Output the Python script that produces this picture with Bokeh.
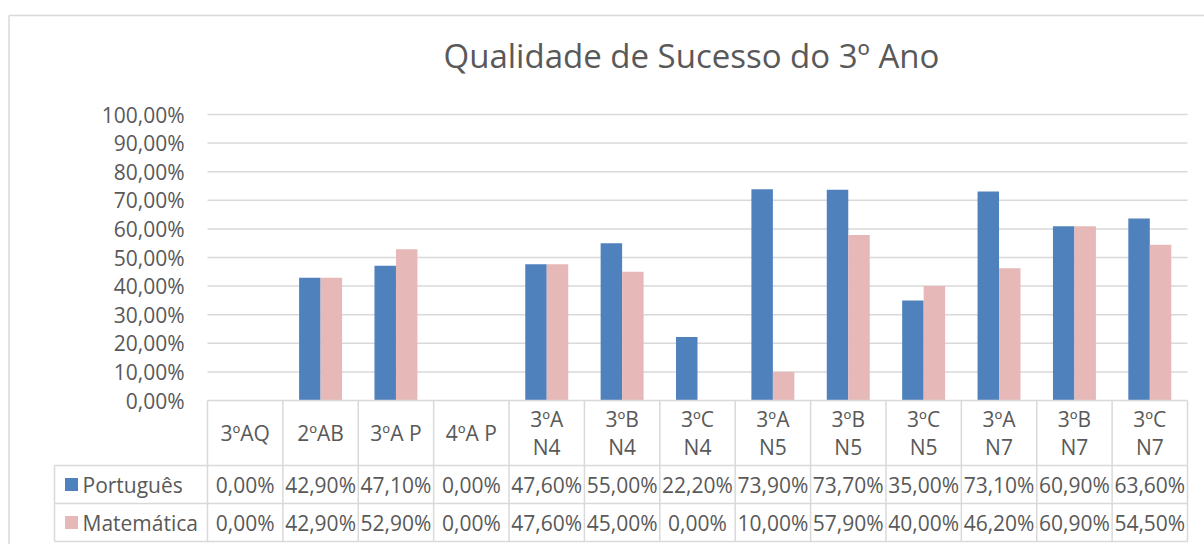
from bokeh.plotting import figure
from bokeh.models import Range1d
from bokeh.core.properties import value
from bokeh.embed import file_html
from bokeh.resources import INLINE

# ---------------- data ----------------
title_text = "Qualidade de Sucesso do 3º Ano"
categories = ["3ºAQ", "2ºAB", "3ºA P", "4ºA P", "3ºA\nN4", "3ºB\nN4", "3ºC\nN4",
              "3ºA\nN5", "3ºB\nN5", "3ºC\nN5", "3ºA\nN7", "3ºB\nN7", "3ºC\nN7"]
series_names = ["Português", "Matemática"]
portugues = [0.0, 42.9, 47.1, 0.0, 47.6, 55.0, 22.2, 73.9, 73.7, 35.0, 73.1, 60.9, 63.6]
matematica = [0.0, 42.9, 52.9, 0.0, 47.6, 45.0, 0.0, 10.0, 57.9, 40.0, 46.2, 60.9, 54.5]
y_ticks = [0, 10, 20, 30, 40, 50, 60, 70, 80, 90, 100]
y_tick_labels = ["0,00%", "10,00%", "20,00%", "30,00%", "40,00%", "50,00%",
                 "60,00%", "70,00%", "80,00%", "90,00%", "100,00%"]

# ---------------- layout (pixels of the reference picture) ----------------
W, H = 1204, 544
OFF = 0
X0 = 207.0                   # left edge of first category column
CW = (1187.0 - 207.0) / 13   # category column width
Y0 = 400.0                   # y of 0 %
YU = 286.0                   # pixels per 100 %


def dx(px):
    return (px - X0) / CW


def dy(py):
    return (Y0 - py) / YU * 100.0


FONT = value("Open Sans")
TXT = "#595959"
GRID = "#D9D9D9"
BLUE = "#4F81BD"
PINK = "#E6B9B8"
n = len(categories)

p = figure(width=W, height=H, output_backend="svg", toolbar_location=None,
           x_axis_location=None, y_axis_location=None,
           x_range=Range1d(dx(OFF), dx(OFF + W)),
           y_range=Range1d(dy(OFF + H), dy(OFF)),
           min_border=0, min_border_left=0, min_border_right=0,
           min_border_top=0, min_border_bottom=0)
p.outline_line_color = None
p.xgrid.visible = False
p.ygrid.visible = False
p.background_fill_color = "white"
p.border_fill_color = "white"

# outer chart border
p.segment(x0=[dx(8.5), dx(8.5)], y0=[dy(15), dy(15)],
          x1=[dx(1300), dx(8.5)], y1=[dy(15), dy(700)],
          line_color="#D9D9D9", line_width=1.5)

# title
p.text(x=[dx(691)], y=[dy(55)], text=[title_text], text_font=FONT,
       text_font_size=value("33px"), text_color=TXT, text_align="center",
       text_baseline="alphabetic")

# horizontal gridlines from ticks
gt = [t for t in y_ticks if t > 0]
p.segment(x0=[0] * len(gt), x1=[n] * len(gt), y0=gt, y1=gt,
          line_color=GRID, line_width=1.5)

# y tick labels
p.text(x=[dx(184)] * len(y_ticks), y=y_ticks, text=y_tick_labels, text_font=FONT,
       text_font_size=value("21px"), text_color=TXT, text_align="right",
       text_baseline="middle")

# bars
xs = [i + 0.5 for i in range(n)]
bw = 0.285
p.vbar(x=[x - bw / 2 for x in xs], top=portugues, bottom=0, width=bw,
       fill_color=BLUE, line_color=None)
p.vbar(x=[x + bw / 2 for x in xs], top=matematica, bottom=0, width=bw,
       fill_color=PINK, line_color=None)

# ---------------- data table ----------------
row_top = [465.0, 503.0, 541.0]
p.segment(x0=[0], x1=[n], y0=[0], y1=[0], line_color=GRID, line_width=1.5)
p.segment(x0=[dx(54)] * 3, x1=[n] * 3, y0=[dy(r) for r in row_top],
          y1=[dy(r) for r in row_top], line_color=GRID, line_width=1.5)
p.segment(x0=list(range(n + 1)), x1=list(range(n + 1)), y0=[0] * (n + 1),
          y1=[dy(541)] * (n + 1), line_color=GRID, line_width=1.5)
p.segment(x0=[dx(54)], x1=[dx(54)], y0=[dy(465)], y1=[dy(541)],
          line_color=GRID, line_width=1.5)

# header labels
p.text(x=xs, y=[dy(432.5)] * n, text=categories, text_font=FONT,
       text_font_size=value("21px"), text_color=TXT, text_align="center",
       text_baseline="middle", text_line_height=0.98)


def fmt(v):
    return f"{v:.2f}".replace(".", ",") + "%"


row_c = [dy(484), dy(522)]
for vals, yc, col, name in zip([portugues, matematica], row_c, [BLUE, PINK], series_names):
    p.text(x=xs, y=[yc] * n, text=[fmt(v) for v in vals], text_font=FONT,
           text_font_size=value("21px"), text_color=TXT, text_align="center",
           text_baseline="middle")
    p.scatter(x=[dx(71)], y=[yc], marker="square", size=13, fill_color=col,
              line_color=None)
    p.text(x=[dx(82)], y=[yc], text=[name], text_font=FONT,
           text_font_size=value("21px"), text_color=TXT, text_align="left",
           text_baseline="middle")

open("out.html", "w").write(file_html(p, INLINE))
